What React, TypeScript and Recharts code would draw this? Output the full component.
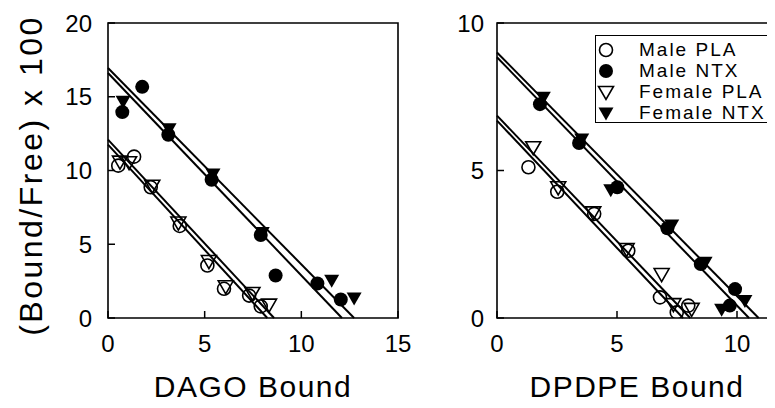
import React from 'react';
import { ScatterChart, Scatter, XAxis, YAxis, ReferenceLine, ReferenceArea, Legend } from 'recharts';

const FONT = '"Liberation Sans", Arial, sans-serif';

// ---- tick labels ----
const dagoXTicks = [0, 5, 10, 15];
const dagoYTicks = [0, 5, 10, 15, 20];
const dpdpeXTicks = [0, 5, 10];
const dpdpeYTicks = [0, 5, 10];

// ---- series names ----
const seriesNames = ['Male PLA', 'Male NTX', 'Female PLA', 'Female NTX'];

// ---- DAGO panel data ----
const dagoMalePla = [
  { x: 0.53, y: 10.33 }, { x: 1.35, y: 10.94 }, { x: 2.21, y: 8.86 }, { x: 3.71, y: 6.24 },
  { x: 5.14, y: 3.56 }, { x: 6.0, y: 1.98 }, { x: 7.3, y: 1.52 }, { x: 7.9, y: 0.79 },
];
const dagoMaleNtx = [
  { x: 0.74, y: 13.96 }, { x: 1.77, y: 15.67 }, { x: 3.12, y: 12.42 }, { x: 5.36, y: 9.37 },
  { x: 7.9, y: 5.63 }, { x: 8.67, y: 2.88 }, { x: 10.83, y: 2.34 }, { x: 12.04, y: 1.25 },
];
const dagoFemalePla = [
  { x: 0.62, y: 10.6 }, { x: 1.09, y: 10.56 }, { x: 2.29, y: 8.97 }, { x: 3.64, y: 6.47 },
  { x: 5.22, y: 3.86 }, { x: 6.09, y: 2.15 }, { x: 7.47, y: 1.7 }, { x: 8.33, y: 0.91 },
];
const dagoFemaleNtx = [
  { x: 0.78, y: 14.69 }, { x: 3.16, y: 12.83 }, { x: 5.43, y: 9.76 }, { x: 7.98, y: 5.79 },
  { x: 11.57, y: 2.56 }, { x: 12.73, y: 1.36 },
];
const dagoFits = [
  { yIntercept: 16.95, xIntercept: 12.73 },
  { yIntercept: 16.61, xIntercept: 12.1 },
  { yIntercept: 12.09, xIntercept: 8.59 },
  { yIntercept: 11.75, xIntercept: 8.24 },
];

// ---- DPDPE panel data ----
const dpdpeMalePla = [
  { x: 1.31, y: 5.11 }, { x: 2.51, y: 4.28 }, { x: 4.05, y: 3.53 }, { x: 5.47, y: 2.28 },
  { x: 6.79, y: 0.7 }, { x: 7.49, y: 0.19 }, { x: 7.97, y: 0.42 },
];
const dpdpeMaleNtx = [
  { x: 1.79, y: 7.25 }, { x: 3.42, y: 5.93 }, { x: 5.01, y: 4.43 }, { x: 7.1, y: 3.04 },
  { x: 8.49, y: 1.83 }, { x: 9.92, y: 0.98 }, { x: 9.7, y: 0.42 },
];
const dpdpeFemalePla = [
  { x: 1.51, y: 5.79 }, { x: 2.55, y: 4.43 }, { x: 4.01, y: 3.58 }, { x: 5.4, y: 2.34 },
  { x: 6.86, y: 1.49 }, { x: 7.35, y: 0.47 }, { x: 8.11, y: 0.31 },
];
const dpdpeFemaleNtx = [
  { x: 1.93, y: 7.48 }, { x: 3.53, y: 6.07 }, { x: 4.74, y: 4.35 }, { x: 7.28, y: 3.15 },
  { x: 8.67, y: 1.89 }, { x: 9.36, y: 0.3 }, { x: 10.33, y: 0.59 },
];
const dpdpeFits = [
  { yIntercept: 9.0, xIntercept: 10.9 },
  { yIntercept: 8.84, xIntercept: 10.5 },
  { yIntercept: 6.86, xIntercept: 8.05 },
  { yIntercept: 6.69, xIntercept: 7.75 },
];

// ---- marker shapes ----
const OpenCircle = (p: any) => (
  <circle cx={p.cx} cy={p.cy} r={6.5} fill="none" stroke="#000" strokeWidth={1.6} />
);
const FilledCircle = (p: any) => <circle cx={p.cx} cy={p.cy} r={7} fill="#000" />;
const triPath = (cx: number, cy: number) =>
  `M${cx - 7.5},${cy - 5.5}L${cx + 7.5},${cy - 5.5}L${cx},${cy + 7.5}Z`;
const OpenTriangle = (p: any) => (
  <path d={triPath(p.cx, p.cy)} fill="none" stroke="#000" strokeWidth={1.6} strokeLinejoin="miter" />
);
const FilledTriangle = (p: any) => <path d={triPath(p.cx, p.cy)} fill="#000" />;

const shapes = [OpenCircle, FilledCircle, OpenTriangle, FilledTriangle];

const LegendBox = () => (
  <div
    style={{
      border: '1.5px solid #000',
      width: 178,
      height: 88,
      boxSizing: 'border-box',
      paddingTop: 3,
      background: '#fff',
      fontFamily: FONT,
    }}
  >
    {seriesNames.map((name, i) => {
      const Shape = shapes[i];
      return (
        <div key={name} style={{ display: 'flex', alignItems: 'center', height: 21 }}>
          <svg width={20} height={20} style={{ display: 'block' }}>
            <Shape cx={10} cy={10} />
          </svg>
          <span style={{ marginLeft: 23, fontSize: 19, letterSpacing: 2, lineHeight: '21px', color: '#000' }}>
            {name}
          </span>
        </div>
      );
    })}
  </div>
);

// Rotated y-axis title, positioned from the axis viewBox supplied by Recharts
const makeYTitle = (text: string) => (props: any) => {
  const vb = props.viewBox || { x: 0, y: 0, width: 0, height: 0 };
  const cx = vb.x + 13;
  const cy = vb.y + vb.height / 2 + 5;
  return (
    <text
      x={cx}
      y={cy}
      transform={`rotate(-90, ${cx}, ${cy})`}
      textAnchor="middle"
      dominantBaseline="central"
      style={{ fontSize: 32, fontFamily: FONT, letterSpacing: 2.5, fill: '#000' }}
    >
      {text}
    </text>
  );
};

type PanelProps = {
  series: { x: number; y: number }[][];
  fits: { yIntercept: number; xIntercept: number }[];
  xDomain: [number, number];
  yDomain: [number, number];
  xTicks: number[];
  yTicks: number[];
  xTitle: string;
  yTitle?: string;
  margin: { top: number; right: number; bottom: number; left: number };
  yTickMargin: number;
  legend?: boolean;
  titleDx?: number;
};

const tickStyle = { fill: '#000', fontSize: 24, fontFamily: FONT };

function Panel(props: PanelProps) {
  const { series, fits, xDomain, yDomain, xTicks, yTicks, xTitle, yTitle, margin, yTickMargin, legend, titleDx } = props;
  return (
    <ScatterChart width={420} height={400} margin={margin}>
      <XAxis
        type="number"
        dataKey="x"
        domain={xDomain}
        ticks={xTicks}
        allowDataOverflow
        axisLine={false}
        tickSize={-7}
        tickMargin={24}
        height={30}
        tick={tickStyle}
        tickLine={{ stroke: '#000', strokeWidth: 1.5 }}
        label={{
          value: xTitle,
          position: 'bottom',
          offset: 28,
          dx: titleDx || 0,
          style: { fontSize: 30, fontFamily: FONT, letterSpacing: 1.5, fill: '#000' },
        }}
      />
      <YAxis
        type="number"
        dataKey="y"
        domain={yDomain}
        ticks={yTicks}
        allowDataOverflow
        axisLine={false}
        tickSize={-7}
        tickMargin={yTickMargin}
        width={90}
        tick={tickStyle}
        tickLine={{ stroke: '#000', strokeWidth: 1.5 }}
        label={yTitle ? { value: yTitle, content: makeYTitle(yTitle) } : undefined}
      />
      <ReferenceArea
        x1={xDomain[0]}
        x2={xDomain[1]}
        y1={yDomain[0]}
        y2={yDomain[1]}
        fill="none"
        fillOpacity={0}
        stroke="#000"
        strokeWidth={1.6}
        ifOverflow="visible"
      />
      {fits.map((f, i) => (
        <ReferenceLine
          key={i}
          segment={[
            { x: 0, y: f.yIntercept },
            { x: f.xIntercept, y: 0 },
          ]}
          stroke="#000"
          strokeWidth={2}
          ifOverflow="visible"
        />
      ))}
      {series.map((d, i) => (
        <Scatter key={i} name={seriesNames[i]} data={d} shape={shapes[i]} isAnimationActive={false} />
      ))}
      {legend ? (
        <Legend
          layout="vertical"
          align="center"
          verticalAlign="middle"
          content={() => <LegendBox />}
          wrapperStyle={{ position: 'absolute', left: 195, top: 27, width: 178, height: 88 }}
        />
      ) : null}
    </ScatterChart>
  );
}

export default function App() {
  return (
    <div style={{ position: 'relative', width: 767, height: 400, overflow: 'hidden', background: '#fff' }}>
      <div style={{ position: 'absolute', left: 0, top: 0 }}>
        <Panel
          series={[dagoMalePla, dagoMaleNtx, dagoFemalePla, dagoFemaleNtx]}
          fits={dagoFits}
          xDomain={[0, 15]}
          yDomain={[0, 20]}
          xTicks={dagoXTicks}
          yTicks={dagoYTicks}
          xTitle="DAGO Bound"
          yTitle="(Bound/Free) x 100"
          margin={{ top: 15, right: 30, bottom: 60, left: 10 }}
          yTickMargin={23}
        />
      </div>
      <div style={{ position: 'absolute', left: 392, top: 0 }}>
        <Panel
          series={[dpdpeMalePla, dpdpeMaleNtx, dpdpeFemalePla, dpdpeFemaleNtx]}
          fits={dpdpeFits}
          xDomain={[0, 12]}
          yDomain={[0, 10]}
          xTicks={dpdpeXTicks}
          yTicks={dpdpeYTicks}
          xTitle="DPDPE Bound"
          margin={{ top: 15, right: 35, bottom: 60, left: 7 }}
          yTickMargin={20}
          legend
          titleDx={-4}
        />
      </div>
    </div>
  );
}
